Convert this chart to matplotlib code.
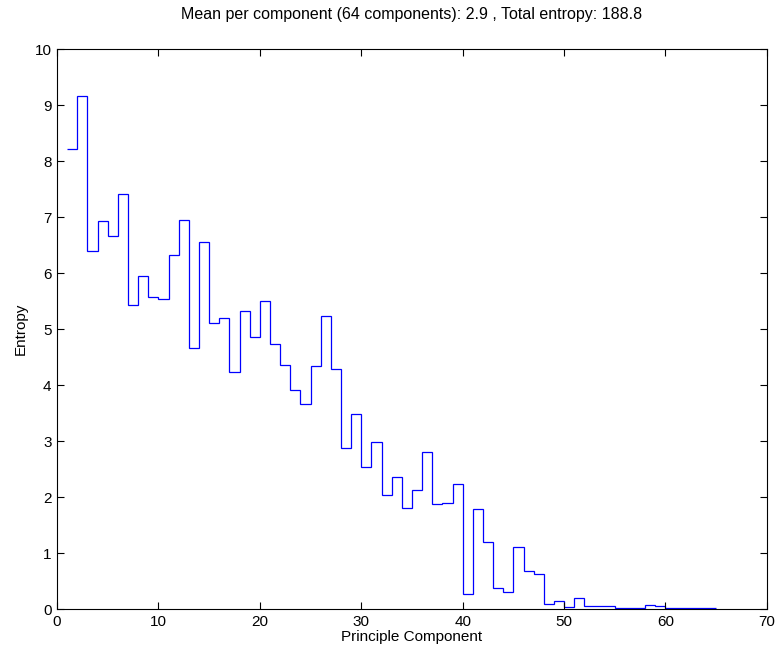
import numpy as np
import matplotlib
matplotlib.use('Agg')
import matplotlib.pyplot as plt

plt.rcParams['font.family'] = ['Liberation Sans', 'DejaVu Sans']

# entropy of each principal component
entropy = [8.21, 9.17, 6.40, 6.93, 6.67, 7.42, 5.43, 5.95, 5.58, 5.54,
           6.32, 6.95, 4.66, 6.55, 5.11, 5.20, 4.24, 5.33, 4.86, 5.50,
           4.73, 4.35, 3.91, 3.67, 4.34, 5.24, 4.28, 2.87, 3.49, 2.53,
           2.98, 2.03, 2.35, 1.80, 2.12, 2.81, 1.87, 1.90, 2.24, 0.27,
           1.79, 1.20, 0.37, 0.30, 1.10, 0.68, 0.62, 0.09, 0.15, 0.04,
           0.20, 0.06, 0.06, 0.05, 0.01, 0.01, 0.02, 0.08, 0.05, 0.02,
           0.02, 0.02, 0.02, 0.02]
n_comp = 64
mean_val = 2.9
total_val = 188.8

edges = np.arange(1, len(entropy) + 2)

fig = plt.figure(figsize=(7.77, 6.55), dpi=100)
ax = fig.add_axes([0.0734, 0.0702, 0.9136, 0.8548])

ax.stairs(entropy, edges, baseline=None, color='#0000ff', linewidth=0.9)

ax.set_xlim(0, 70)
ax.set_ylim(0, 10)
ax.set_xticks(np.arange(0, 71, 10))
ax.set_yticks(np.arange(0, 11, 1))
ax.tick_params(direction='in', top=True, right=True, length=5, width=0.8,
               labelsize=11, pad=4)
for sp in ax.spines.values():
    sp.set_linewidth(0.8)

ax.set_xlabel('Principle Component', fontsize=11, labelpad=1)
ax.set_ylabel('Entropy', fontsize=11, labelpad=5)
ax.set_title('Mean per component (%d components): %.1f , Total entropy: %.1f'
             % (n_comp, mean_val, total_val), fontsize=11.5, pad=22)

fig.savefig('out.png', dpi=100)
